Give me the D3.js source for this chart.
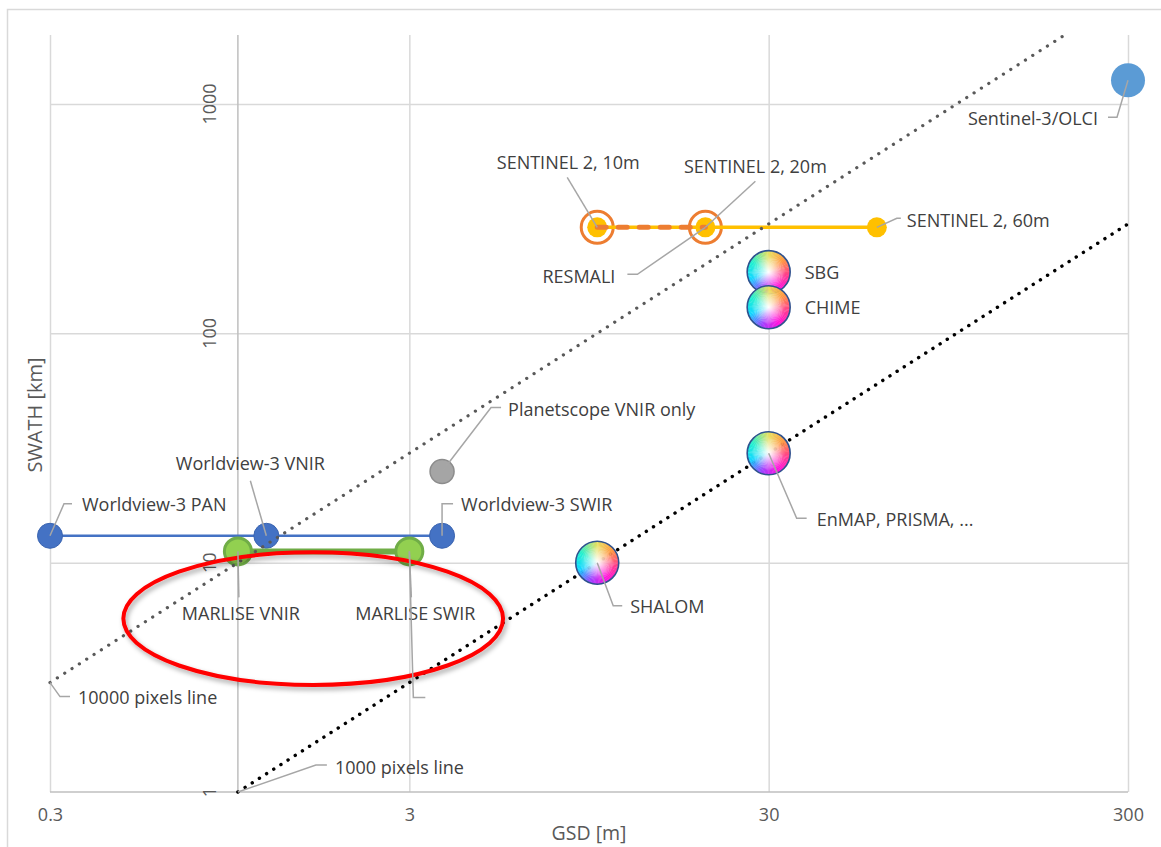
<!DOCTYPE html>
<html>
<head>
<meta charset="utf-8">
<script src="https://cdn.jsdelivr.net/npm/d3@7"></script>
<style>
  body { margin: 0; background: #fff; }
  text { font-family: "Open Sans", Lato, sans-serif; }
</style>
</head>
<body>
<div id="chart"></div>
<script>
// GSD vs swath, log-log scatter of imaging missions
// ================================================

var gsdTicks = [0.3, 3, 30, 300];
var swathTicks = [1, 10, 100, 1000];

// Worldview-3 (blue line)
var wv3Names = ["Worldview-3 PAN", "Worldview-3 VNIR", "Worldview-3 SWIR"];
var wv3Gsd = [0.3, 1.2, 3.7];
var wv3Swath = [13.1, 13.1, 13.1];

// MARLISE (green line)
var marliseNames = ["MARLISE VNIR", "MARLISE SWIR"];
var marliseGsd = [1, 3];
var marliseSwath = [11.2, 11.2];

// Sentinel 2 (yellow line)
var s2Names = ["SENTINEL 2, 10m", "SENTINEL 2, 20m", "SENTINEL 2, 60m"];
var s2Gsd = [10, 20, 60];
var s2Swath = [290, 290, 290];

// RESMALI (orange dashed, rings)
var resmaliGsd = [10, 20];
var resmaliSwath = [290, 290];

var planetNames = ["Planetscope VNIR only"];
var planetGsd = [3.7];
var planetSwath = [25];

var olciNames = ["Sentinel-3/OLCI"];
var olciGsd = [300];
var olciSwath = [1270];

// hyperspectral missions (rainbow bubbles)
var hyperNames = ["SBG", "CHIME", "EnMAP, PRISMA, ...", "SHALOM"];
var hyperGsd = [30, 30, 30, 10];
var hyperSwath = [185, 130, 30, 10];

// constant pixel count lines (endpoints)
var line10kGsd = [0.3, 200];
var line10kSwath = [3, 2000];
var line1kGsd = [1, 300];
var line1kSwath = [1, 300];

// red highlight ellipse, bounding box in data units
var ellipseGsd = [0.48, 5.47];
var ellipseSwath = [2.93, 11.1];

var width = 1161,
    height = 847;

var svg = d3.select("#chart").append("svg")
    .attr("width", width)
    .attr("height", height);

var x = d3.scaleLog().domain([0.3, 300]).range([50, 1128]);
var y = d3.scaleLog().domain([1, 2000]).range([792, 35]);

var defs = svg.append("defs");
var glow = defs.append("radialGradient").attr("id", "whiteCenter");
glow.append("stop").attr("offset", "0%").attr("stop-color", "#fff").attr("stop-opacity", 1);
glow.append("stop").attr("offset", "30%").attr("stop-color", "#fff").attr("stop-opacity", 0.6);
glow.append("stop").attr("offset", "80%").attr("stop-color", "#fff").attr("stop-opacity", 0);
var shadow = defs.append("filter").attr("id", "shadow")
    .attr("x", "-10%").attr("y", "-10%").attr("width", "120%").attr("height", "130%");
shadow.append("feDropShadow").attr("dx", 2).attr("dy", 3).attr("stdDeviation", 2.5)
    .attr("flood-color", "#000").attr("flood-opacity", 0.35);

// chart frame
svg.append("rect")
    .attr("x", 7.5).attr("y", 9.5)
    .attr("width", width).attr("height", height)
    .attr("fill", "none").attr("stroke", "#d9d9d9").attr("stroke-width", 1.5);

// gridlines
svg.append("g")
    .attr("transform", "translate(0,792)")
    .call(d3.axisBottom(x).tickValues(gsdTicks).tickSize(-757).tickFormat(""))
    .call(g => g.select(".domain").remove())
    .call(g => g.selectAll("line").attr("stroke", "#d9d9d9").attr("stroke-width", 1.5));

svg.append("g")
    .attr("transform", "translate(50,0)")
    .call(d3.axisLeft(y).tickValues(swathTicks.slice(1)).tickSize(-1078).tickFormat(""))
    .call(g => g.select(".domain").remove())
    .call(g => g.selectAll("line").attr("stroke", "#d9d9d9").attr("stroke-width", 1.5));

// axis lines: x axis at swath 1, y axis crossing at gsd 1
svg.append("line")
    .attr("x1", x(0.3)).attr("x2", x(300))
    .attr("y1", y(1)).attr("y2", y(1))
    .attr("stroke", "#bfbfbf").attr("stroke-width", 1.5);
svg.append("line")
    .attr("x1", x(1)).attr("x2", x(1))
    .attr("y1", y(2000)).attr("y2", y(1))
    .attr("stroke", "#bfbfbf").attr("stroke-width", 1.5);

// tick labels
svg.append("g")
    .attr("transform", "translate(0,792)")
    .call(d3.axisBottom(x).tickValues(gsdTicks).tickSize(0).tickPadding(16).tickFormat(d3.format("")))
    .call(g => g.select(".domain").remove())
    .call(g => g.selectAll("text")
        .attr("fill", "#595959").attr("font-size", 18)
        .style("font-family", "'Open Sans', sans-serif"));

svg.append("g").selectAll("text")
    .data(swathTicks)
    .enter().append("text")
    .attr("transform", d => "translate(" + (x(1) - 29) + "," + y(d) + ") rotate(-90)")
    .attr("text-anchor", "middle")
    .attr("dominant-baseline", "central")
    .attr("fill", "#595959").attr("font-size", 18)
    .text(d => d);

// axis titles
svg.append("text")
    .attr("x", 589).attr("y", 832)
    .attr("text-anchor", "middle").attr("dominant-baseline", "central")
    .attr("fill", "#595959").attr("font-size", 19.5)
    .text("GSD [m]");
svg.append("text")
    .attr("transform", "translate(34,415) rotate(-90)")
    .attr("text-anchor", "middle").attr("dominant-baseline", "central")
    .attr("fill", "#595959").attr("font-size", 20)
    .text("SWATH [km]");

function pts(gs, sw) { return gs.map((g, i) => [x(g), y(sw[i])]); }
var line = d3.line();

// Worldview-3
svg.append("path")
    .attr("d", line(pts(wv3Gsd, wv3Swath)))
    .attr("fill", "none").attr("stroke", "#4472c4").attr("stroke-width", 2.5);
svg.selectAll("circle.wv3")
    .data(pts(wv3Gsd, wv3Swath))
    .enter().append("circle")
    .attr("cx", d => d[0]).attr("cy", d => d[1])
    .attr("r", 12.5).attr("fill", "#4472c4").attr("stroke", "#3a64b0").attr("stroke-width", 1);

// MARLISE
svg.append("path")
    .attr("d", line(pts(marliseGsd, marliseSwath)))
    .attr("fill", "none").attr("stroke", "#70ad47").attr("stroke-width", 6);
svg.selectAll("circle.marlise")
    .data(pts(marliseGsd, marliseSwath))
    .enter().append("circle")
    .attr("cx", d => d[0]).attr("cy", d => d[1])
    .attr("r", 13.5).attr("fill", "#92d050").attr("stroke", "#70ad47").attr("stroke-width", 3);

// Planetscope
svg.selectAll("circle.planet")
    .data(pts(planetGsd, planetSwath))
    .enter().append("circle")
    .attr("cx", d => d[0]).attr("cy", d => d[1])
    .attr("r", 12).attr("fill", "#a5a5a5").attr("stroke", "#8c8c8c").attr("stroke-width", 1.5);

// Sentinel-3/OLCI
svg.selectAll("circle.olci")
    .data(pts(olciGsd, olciSwath))
    .enter().append("circle")
    .attr("cx", d => d[0]).attr("cy", d => d[1])
    .attr("r", 17).attr("fill", "#5b9bd5");

// RESMALI rings (white inside), then Sentinel 2 on top, then dashed RESMALI line
svg.selectAll("circle.resmali")
    .data(pts(resmaliGsd, resmaliSwath))
    .enter().append("circle")
    .attr("cx", d => d[0]).attr("cy", d => d[1])
    .attr("r", 16).attr("fill", "#fff").attr("stroke", "#ed7d31").attr("stroke-width", 3);
svg.append("path")
    .attr("d", line(pts(s2Gsd, s2Swath)))
    .attr("fill", "none").attr("stroke", "#ffc000").attr("stroke-width", 3.5);
svg.selectAll("circle.s2")
    .data(pts(s2Gsd, s2Swath))
    .enter().append("circle")
    .attr("cx", d => d[0]).attr("cy", d => d[1])
    .attr("r", 10).attr("fill", "#ffc000");
svg.append("path")
    .attr("d", line(pts(resmaliGsd, resmaliSwath)))
    .attr("fill", "none").attr("stroke", "#ed7d31").attr("stroke-width", 5)
    .attr("stroke-linecap", "round").attr("stroke-dasharray", "9 12");

// constant pixel lines
svg.append("path")
    .attr("d", line(pts(line10kGsd, line10kSwath)))
    .attr("fill", "none").attr("stroke", "#595959").attr("stroke-width", 3.2)
    .attr("stroke-linecap", "round").attr("stroke-dasharray", "0.1 8.6");
svg.append("path")
    .attr("d", line(pts(line1kGsd, line1kSwath)))
    .attr("fill", "none").attr("stroke", "#000").attr("stroke-width", 3.4)
    .attr("stroke-linecap", "round").attr("stroke-dasharray", "0.1 8.4");

// hyperspectral rainbow bubbles: colour by angle (clockwise from top)
var hueAngles = [0, 50, 100, 150, 200, 250, 300, 360];
var hueColours = ["#e8e060", "#ff9a40", "#ff3c8c", "#ff10e0", "#a040ff", "#10d8ff", "#20f0d0", "#e8e060"];
var hueScale = d3.scaleLinear().domain(hueAngles).range(hueColours).interpolate(d3.interpolateRgb);
var wedges = d3.range(0, 360, 4);
var arc = d3.arc().innerRadius(0).outerRadius(21.5);
var bubbles = svg.selectAll("g.hyper")
    .data(pts(hyperGsd, hyperSwath))
    .enter().append("g")
    .attr("transform", d => "translate(" + d[0] + "," + d[1] + ")");
bubbles.selectAll("path")
    .data(wedges)
    .enter().append("path")
    .attr("d", a => arc({startAngle: a * Math.PI / 180, endAngle: (a + 5) * Math.PI / 180}))
    .attr("fill", a => hueScale(a + 2));
bubbles.append("circle")
    .attr("r", 21.5).attr("fill", "url(#whiteCenter)")
    .attr("stroke", "#2f528f").attr("stroke-width", 1.6);

// red highlight ellipse
svg.append("ellipse")
    .attr("cx", (x(ellipseGsd[0]) + x(ellipseGsd[1])) / 2)
    .attr("cy", (y(ellipseSwath[0]) + y(ellipseSwath[1])) / 2)
    .attr("rx", (x(ellipseGsd[1]) - x(ellipseGsd[0])) / 2)
    .attr("ry", (y(ellipseSwath[0]) - y(ellipseSwath[1])) / 2)
    .attr("fill", "none").attr("stroke", "#ff0000").attr("stroke-width", 4)
    .attr("filter", "url(#shadow)");

// data labels with leader lines (offsets from the point, in px)
var labels = [
  {text: wv3Names[0], at: [wv3Gsd[0], wv3Swath[0]], lead: [[0, 0], [14, -32], [22, -32]], t: [32, -32], anchor: "start"},
  {text: wv3Names[1], at: [wv3Gsd[1], wv3Swath[1]], lead: [[0, 0], [-16, -55]], t: [-16, -73], anchor: "middle"},
  {text: wv3Names[2], at: [wv3Gsd[2], wv3Swath[2]], lead: [[0, 0], [0, -32], [11, -32]], t: [19, -32], anchor: "start"},
  {text: planetNames[0], at: [planetGsd[0], planetSwath[0]], lead: [[0, 0], [49, -64], [59, -64]], t: [66, -62], anchor: "start"},
  {text: marliseNames[0], at: [marliseGsd[0], marliseSwath[0]], lead: [[0, 0], [1, 46]], t: [3, 62], anchor: "middle"},
  {text: marliseNames[1], at: [marliseGsd[1], marliseSwath[1]], lead: [[0, 0], [2, 46]], t: [6, 62], anchor: "middle"},
  {text: "", at: [marliseGsd[1], marliseSwath[1]], lead: [[0, 0], [4, 146], [16, 146]], t: [20, 146], anchor: "start"},
  {text: hyperNames[0], at: [hyperGsd[0], hyperSwath[0]], lead: null, t: [36, 0], anchor: "start"},
  {text: hyperNames[1], at: [hyperGsd[1], hyperSwath[1]], lead: null, t: [36, 0], anchor: "start"},
  {text: hyperNames[2], at: [hyperGsd[2], hyperSwath[2]], lead: [[0, 0], [28, 65], [38, 65]], t: [48, 66], anchor: "start"},
  {text: hyperNames[3], at: [hyperGsd[3], hyperSwath[3]], lead: [[0, 0], [16, 43], [25, 43]], t: [33, 43], anchor: "start"},
  {text: s2Names[0], at: [s2Gsd[0], s2Swath[0]], lead: [[0, 0], [-30, -50]], t: [-29, -65], anchor: "middle"},
  {text: s2Names[1], at: [s2Gsd[1], s2Swath[1]], lead: [[0, 0], [50, -46]], t: [50, -61], anchor: "middle"},
  {text: s2Names[2], at: [s2Gsd[2], s2Swath[2]], lead: [[0, 0], [20, -9], [24, -9]], t: [30, -7], anchor: "start"},
  {text: "RESMALI", at: [resmaliGsd[1], resmaliSwath[1]], lead: [[0, 0], [-68, 47], [-78, 47]], t: [-90, 49], anchor: "end"},
  {text: olciNames[0], at: [olciGsd[0], olciSwath[0]], lead: [[0, 0], [-11, 37], [-20, 37]], t: [-30, 38], anchor: "end"},
  {text: "10000 pixels line", at: [line10kGsd[0], line10kSwath[0]], lead: [[0, 0], [10, 14], [20, 14]], t: [28, 14], anchor: "start"},
  {text: "1000 pixels line", at: [line1kGsd[0], line1kSwath[0]], lead: [[0, 0], [78, -27], [89, -27]], t: [97, -25], anchor: "start"}
];

var lab = svg.selectAll("g.label")
    .data(labels)
    .enter().append("g")
    .attr("transform", d => "translate(" + x(d.at[0]) + "," + y(d.at[1]) + ")");
lab.filter(d => d.lead).append("path")
    .attr("d", d => line(d.lead))
    .attr("fill", "none").attr("stroke", "#a6a6a6").attr("stroke-width", 1.5);
lab.append("text")
    .attr("x", d => d.t[0]).attr("y", d => d.t[1])
    .attr("text-anchor", d => d.anchor)
    .attr("dominant-baseline", "central")
    .attr("fill", "#404040").attr("font-size", 18)
    .text(d => d.text);
</script>
</body>
</html>
